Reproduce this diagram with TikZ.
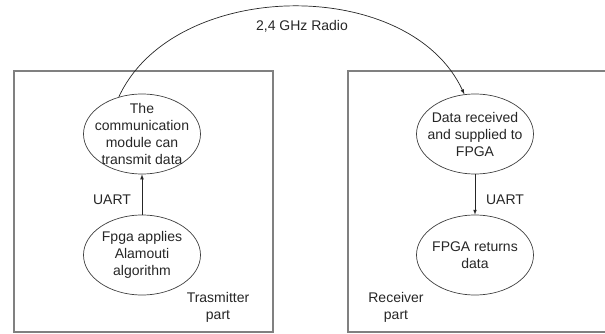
\documentclass[tikz,border=0pt]{standalone}
\usepackage{fontspec}
\setmainfont{Liberation Sans}
\usetikzlibrary{shapes.geometric}

\begin{document}
\begin{tikzpicture}[x=1pt,y=1pt,
  txt/.style={text=black!85, font=\fontsize{14}{17}\selectfont, align=center},
  stage/.style={txt, ellipse, draw=black!75, line width=0.7pt, minimum width=117pt, minimum height=80pt, inner sep=-10pt},
  part/.style={draw=black!50, line width=1.3pt},
  link/.style={-latex, line width=0.7pt, black!85}]
\useasboundingbox (0,0) rectangle (605,333);
\draw [part] (14,1) rectangle (273,262);
\draw [part] (348,1) rectangle (612,262);
\node [stage] (comm) at (142,199) {The\\communication\\module can\\transmit data};
\node [stage] (alam) at (142,78) {Fpga applies\\Alamouti\\algorithm};
\node [stage] (recv) at (475,199) {Data received\\and supplied to\\FPGA};
\node [stage] (back) at (475,78) {FPGA returns\\data};
\draw [link] (alam) -- (comm);
\draw [link] (recv) -- (back);
\node [txt] (uarttx) at (112,133) {UART};
\node [txt] (uartrx) at (505,133) {UART};
\node [txt] (tx) at (218,26) {Trasmitter\\part};
\node [txt] (rx) at (396,26) {Receiver\\part};
\draw [link] (comm.122) .. controls +(55,119) and +(-55,119) .. (recv.105);
\node [txt] (radio) at (302,307) {2,4 GHz Radio};
\end{tikzpicture}
\end{document}
